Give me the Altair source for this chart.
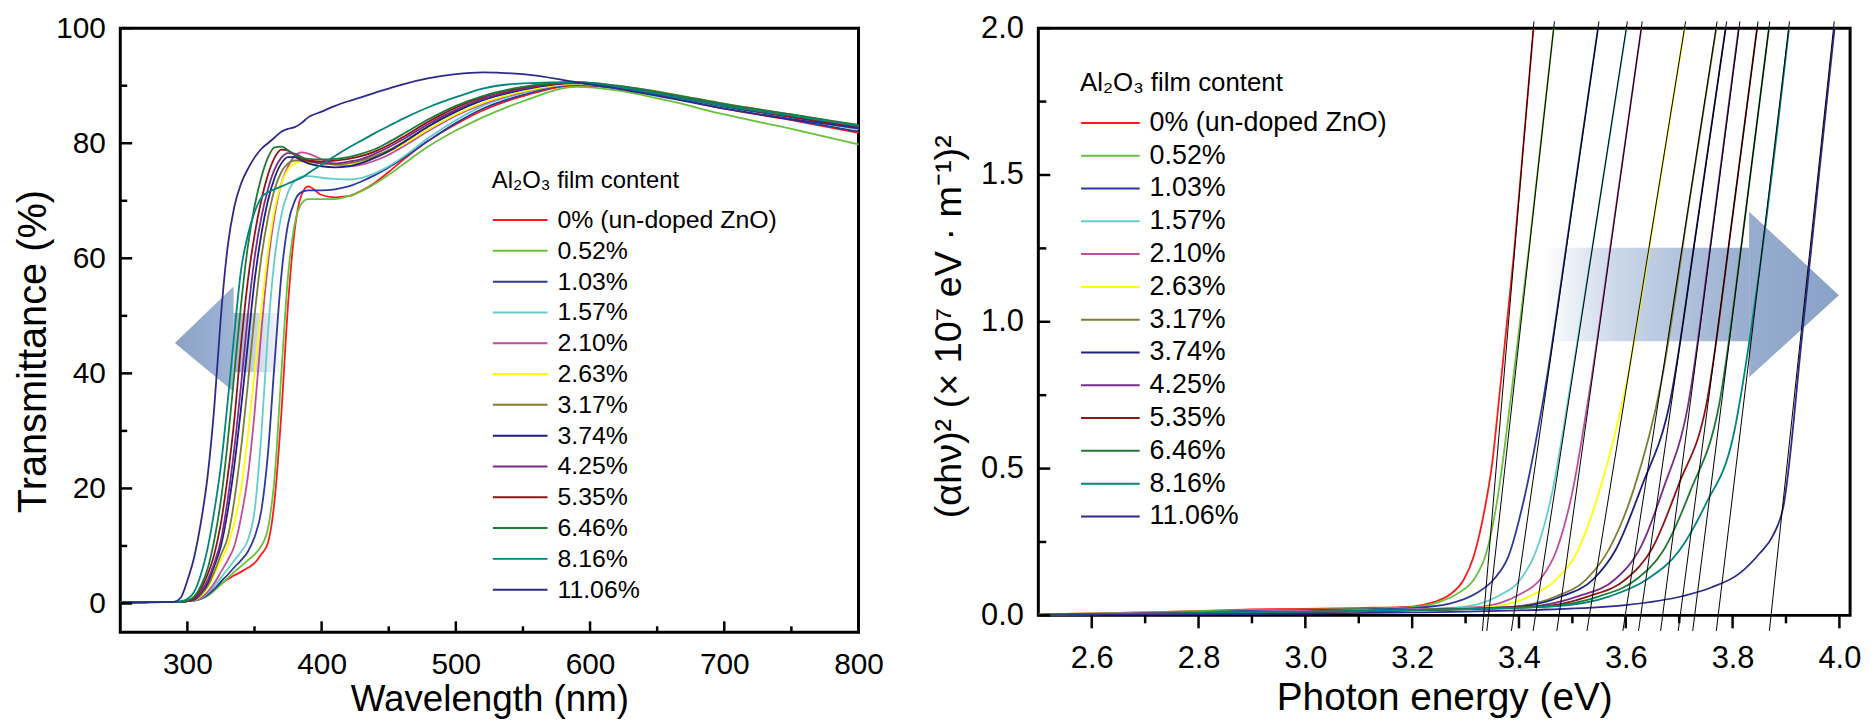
import altair as alt
import pandas as pd

FONT = "Liberation Sans, Arial, Helvetica, sans-serif"

series = ["0% (un-doped ZnO)", "0.52%", "1.03%", "1.57%", "2.10%", "2.63%", "3.17%",
          "3.74%", "4.25%", "5.35%", "6.46%", "8.16%", "11.06%"]
colors = ["#ff1a1a", "#66c23a", "#2b3a9c", "#66cccc", "#c04d9e", "#ffff00", "#7d7d36",
          "#1f1f86", "#7a2c8a", "#8e1515", "#1e7a35", "#00867c", "#2e2a8c"]

# ---------------- left panel: transmittance ----------------
wavelength = [250, 290, 295, 300, 305, 310, 315, 320, 325, 330, 335, 340, 345, 350, 355, 360,
              365, 370, 375, 380, 385, 390, 400, 410, 420, 430, 440, 450, 460, 480, 500, 520,
              550, 590, 620, 660, 700, 750, 800]

T_0 = [0.2, 0.3, 0.3, 0.4, 0.6, 1.0, 1.6, 2.5, 3.4, 4.2, 4.9, 5.5, 6.2, 7.0, 8.5, 10.5, 18, 33, 52, 65,
       71, 72.5, 71, 70.6, 70.8, 71.8, 73.2, 75, 77, 80.5, 83.3, 85.7, 88.2, 90, 89.6, 88, 86, 84, 81.8]
T_052 = [0.2, 0.3, 0.3, 0.4, 0.5, 0.8, 1.3, 2.2, 3.3, 4.4, 5.5, 6.5, 7.5, 8.5, 10, 13, 22, 40, 57, 66,
         69.5, 70.3, 70.3, 70.3, 70.8, 71.7, 73, 74.5, 76.2, 79.5, 82.2, 84.5, 87.3, 89.8, 89.2, 87.3, 85, 82.5, 79.8]
T_103 = [0.2, 0.3, 0.3, 0.4, 0.5, 0.8, 1.5, 2.5, 3.8, 5, 6.3, 7.5, 9, 11.5, 16, 26, 42, 57, 66, 70,
         71.5, 71.8, 71.8, 72, 72.5, 73.4, 74.5, 75.8, 77.3, 80.5, 83.5, 86, 88.4, 90.2, 89.6, 88, 86.1, 84.1, 82]
T_157 = [0.2, 0.3, 0.3, 0.4, 0.5, 0.9, 1.8, 3, 4.5, 6, 7.5, 9, 11, 16, 29, 47, 60, 67.5, 71.5, 73.5,
         74.2, 74.3, 74, 73.8, 73.7, 74, 74.8, 76, 77.5, 81, 84, 86.5, 88.7, 90.3, 89.7, 88.2, 86.3, 84.4, 82.4]
T_210 = [0.2, 0.3, 0.3, 0.4, 0.5, 1, 2, 3.5, 5.5, 7.5, 10, 15, 22, 33, 47, 59, 67.5, 73, 76, 77.8,
         78.4, 78.2, 77.2, 76.3, 76, 76.3, 77, 78, 79.3, 82.2, 84.8, 86.8, 88.9, 90.4, 89.8, 88.3, 86.5, 84.6, 82.6]
T_263 = [0.2, 0.3, 0.3, 0.4, 0.6, 1.3, 2.7, 5, 7.5, 10, 14, 20, 29, 40, 51, 61, 68.5, 73, 75.5, 76.5,
         76.8, 76.7, 76.5, 76.3, 76.4, 76.8, 77.5, 78.5, 79.7, 82.5, 85, 87, 89, 90.4, 89.8, 88.3, 86.6, 84.8, 82.8]
T_317 = [0.2, 0.3, 0.3, 0.4, 0.6, 1.5, 3, 5.5, 8.5, 11.5, 18, 27, 38, 50, 60, 67, 72, 75, 76.5, 77,
         77, 76.8, 76.5, 76.3, 76.5, 77, 77.8, 78.8, 80.1, 83, 85.5, 87.5, 89.4, 90.6, 90, 88.6, 86.9, 85, 83]
T_374 = [0.2, 0.3, 0.3, 0.4, 0.7, 1.8, 3.5, 6.5, 10, 16, 24, 34, 45, 56, 64, 70, 74, 76.5, 77.6, 77.6,
         77, 76.5, 76, 75.8, 76, 76.6, 77.5, 78.6, 80, 83, 85.5, 87.5, 89.3, 90.5, 89.7, 88.2, 86.4, 84.6, 82.8]
T_425 = [0.2, 0.3, 0.3, 0.4, 0.8, 2, 4, 7, 11, 18, 27, 38, 50, 60, 67, 72, 75.5, 77.5, 78.3, 78.2,
         77.6, 77, 76.5, 76.5, 76.8, 77.3, 78.2, 79.3, 80.6, 83.4, 85.8, 87.7, 89.5, 90.5, 89.8, 88.3, 86.6, 84.8, 83]
T_535 = [0.2, 0.3, 0.3, 0.4, 1, 2.5, 5, 8.5, 14, 22, 32, 45, 56, 64, 70, 74.5, 77.5, 78.9, 78.7, 78,
         77.3, 77, 76.8, 77, 77.3, 77.8, 78.6, 79.7, 81, 83.8, 86.2, 88, 89.7, 90.5, 89.8, 88.3, 86.5, 84.6, 82.8]
T_646 = [0.2, 0.3, 0.3, 0.5, 1.2, 3, 6, 11, 18, 28, 40, 52, 62, 69, 74, 77.5, 79.3, 79.4, 78.8, 78,
         77.5, 77.3, 77.2, 77.3, 77.6, 78.2, 79, 80.2, 81.5, 84.2, 86.5, 88.2, 89.8, 90.6, 90, 88.5, 86.8, 85, 83.2]
T_816 = [0.2, 0.3, 0.4, 0.8, 2, 5, 9.5, 16, 24, 35, 47, 58, 64, 68, 70.5, 71.5, 72, 72.5, 73, 73.5,
         74, 74.8, 76.3, 77.8, 79.2, 80.5, 81.8, 83, 84.2, 86.3, 88, 89.5, 90.4, 90.6, 89.8, 88.2, 86.5, 84.8, 83]
T_1106 = [0.2, 0.3, 1, 4, 8, 14, 22, 34, 50, 62, 69, 73, 75.5, 77.5, 79, 80, 81, 82, 82.5, 82.8,
          83.5, 84.5, 85.5, 86.5, 87.3, 88, 88.8, 89.5, 90.2, 91.3, 92, 92.3, 92, 90.6, 89.5, 87.8, 86, 84.2, 82.6]
transmittance = [T_0, T_052, T_103, T_157, T_210, T_263, T_317, T_374, T_425, T_535, T_646, T_816, T_1106]

# ---------------- right panel: (alpha h nu)^2 ----------------
E_0 = [2.5, 2.7, 2.9, 3.1, 3.2, 3.24, 3.27, 3.297, 3.315, 3.334, 3.35, 3.364, 3.39, 3.432]
A_0 = [0.003, 0.01, 0.02, 0.025, 0.03, 0.045, 0.07, 0.123, 0.2, 0.345, 0.52, 0.76, 1.22, 2.1]
E_052 = [2.5, 2.7, 2.9, 3.1, 3.2, 3.25, 3.29, 3.316, 3.34, 3.36, 3.386, 3.42, 3.47]
A_052 = [0.003, 0.01, 0.018, 0.022, 0.028, 0.045, 0.08, 0.123, 0.22, 0.4, 0.76, 1.27, 2.08]
E_103 = [2.5, 2.7, 2.9, 3.1, 3.2, 3.27, 3.32, 3.353, 3.38, 3.41, 3.446, 3.5, 3.556]
A_103 = [0.002, 0.008, 0.015, 0.02, 0.025, 0.04, 0.075, 0.123, 0.2, 0.4, 0.74, 1.4, 2.1]
E_157 = [2.5, 2.8, 3.0, 3.2, 3.3, 3.36, 3.403, 3.43, 3.46, 3.496, 3.55, 3.61]
A_157 = [0.002, 0.01, 0.015, 0.02, 0.03, 0.065, 0.123, 0.21, 0.4, 0.78, 1.4, 2.1]
E_210 = [2.5, 2.8, 3.0, 3.2, 3.33, 3.4, 3.44, 3.47, 3.5, 3.53, 3.58, 3.637]
A_210 = [0.002, 0.01, 0.015, 0.02, 0.03, 0.07, 0.123, 0.22, 0.42, 0.74, 1.37, 2.1]
E_263 = [2.5, 2.8, 3.0, 3.2, 3.35, 3.42, 3.47, 3.51, 3.55, 3.6, 3.65, 3.719]
A_263 = [0.002, 0.008, 0.012, 0.018, 0.03, 0.065, 0.123, 0.22, 0.42, 0.78, 1.32, 2.1]
E_317 = [2.5, 2.8, 3.0, 3.2, 3.39, 3.47, 3.526, 3.57, 3.615, 3.666, 3.72, 3.778]
A_317 = [0.002, 0.008, 0.012, 0.018, 0.03, 0.065, 0.123, 0.23, 0.43, 0.79, 1.42, 2.1]
E_374 = [2.5, 2.8, 3.0, 3.2, 3.4, 3.48, 3.539, 3.58, 3.63, 3.682, 3.735, 3.795]
A_374 = [0.002, 0.008, 0.012, 0.018, 0.03, 0.065, 0.123, 0.22, 0.44, 0.72, 1.35, 2.1]
E_425 = [2.5, 2.8, 3.0, 3.2, 3.42, 3.51, 3.58, 3.63, 3.67, 3.715, 3.76, 3.82]
A_425 = [0.002, 0.008, 0.012, 0.018, 0.03, 0.065, 0.123, 0.24, 0.43, 0.7, 1.28, 2.12]
E_535 = [2.5, 2.8, 3.0, 3.2, 3.44, 3.53, 3.6, 3.65, 3.7, 3.75, 3.8, 3.853]
A_535 = [0.002, 0.008, 0.012, 0.018, 0.03, 0.065, 0.123, 0.23, 0.45, 0.71, 1.36, 2.1]
E_646 = [2.5, 2.8, 3.0, 3.2, 3.45, 3.55, 3.62, 3.67, 3.72, 3.775, 3.82, 3.875]
A_646 = [0.002, 0.008, 0.012, 0.018, 0.03, 0.065, 0.123, 0.22, 0.42, 0.72, 1.31, 2.1]
E_816 = [2.5, 2.8, 3.0, 3.2, 3.46, 3.57, 3.64, 3.7, 3.75, 3.8, 3.85, 3.912]
A_816 = [0.002, 0.008, 0.012, 0.018, 0.03, 0.065, 0.123, 0.22, 0.38, 0.6, 1.17, 2.1]
E_1106 = [2.5, 2.8, 3.0, 3.2, 3.45, 3.6, 3.707, 3.76, 3.813, 3.85, 3.875, 3.895, 3.93, 3.96, 3.995]
A_1106 = [0.0, 0.003, 0.006, 0.01, 0.02, 0.035, 0.066, 0.095, 0.143, 0.21, 0.27, 0.37, 0.95, 1.47, 2.07]
energies = [E_0, E_052, E_103, E_157, E_210, E_263, E_317, E_374, E_425, E_535, E_646, E_816, E_1106]
absorb = [A_0, A_052, A_103, A_157, A_210, A_263, A_317, A_374, A_425, A_535, A_646, A_816, A_1106]

# extrapolated band-gap tangents: energy where each line crosses 0 and 2.0
tangent_at_0 = [3.334, 3.343, 3.390, 3.431, 3.475, 3.532, 3.599, 3.628, 3.669, 3.702, 3.729, 3.773, 3.872]
tangent_at_2 = [3.427, 3.465, 3.548, 3.601, 3.629, 3.710, 3.769, 3.787, 3.812, 3.846, 3.868, 3.905, 3.989]

# tick values
left_x_major = [300, 400, 500, 600, 700, 800]
left_x_minor = [350, 450, 550, 650, 750]
left_y_major = [0, 20, 40, 60, 80, 100]
left_y_minor = [10, 30, 50, 70, 90]
right_x_major = [2.6, 2.8, 3.0, 3.2, 3.4, 3.6, 3.8, 4.0]
right_x_minor = [2.7, 2.9, 3.1, 3.3, 3.5, 3.7, 3.9]
right_y_major = [0.0, 0.5, 1.0, 1.5, 2.0]
right_y_minor = [0.25, 0.75, 1.25, 1.75]

# decorative arrows (data units)
left_arrow_head = pd.DataFrame({"x": [290.7, 334.4], "y": [45.3, 55.1], "y2": [45.3, 36.8]})
left_arrow_body = pd.DataFrame({"x": [334.4, 372.0], "y": [50.5, 50.5], "y2": [40.2, 40.2]})
right_arrow_body = pd.DataFrame({"x": [3.446, 3.831], "y": [1.252, 1.252], "y2": [0.934, 0.934]})
right_arrow_head = pd.DataFrame({"x": [3.831, 3.999], "y": [1.375, 1.090], "y2": [0.811, 1.090]})

# ---------------- tables ----------------
left_rows = []
for s, tv in zip(series, transmittance):
    for w, t in zip(wavelength, tv):
        left_rows.append({"wl": w, "T": t, "series": s})
left_df = pd.DataFrame(left_rows)

right_rows = []
for s, ev, av in zip(series, energies, absorb):
    for e, a in zip(ev, av):
        right_rows.append({"E": e, "A": a, "series": s})
right_df = pd.DataFrame(right_rows)

tan_rows = []
for s, e0, e2 in zip(series, tangent_at_0, tangent_at_2):
    k = (e2 - e0) / 2.0
    tan_rows.append({"E": e0 - 0.053 * k, "A": -0.053, "series": s})
    tan_rows.append({"E": e0 + 2.023 * k, "A": 2.023, "series": s})
tan_df = pd.DataFrame(tan_rows)

LW, LH = 743, 608
RW, RH = 817, 591

xl = alt.Scale(domain=[250, 800], nice=False, zero=False)
yl = alt.Scale(domain=[-5, 100], nice=False, zero=False)
xr = alt.Scale(domain=[2.5, 4.02], nice=False, zero=False)
yr = alt.Scale(domain=[0, 2], nice=False, zero=False)

ax_common = dict(ticks=False, domain=False, grid=False, labelFont=FONT, titleFont=FONT,
                 titleFontWeight="normal", labelColor="black", titleColor="black",
                 labelFlush=False, labelOverlap=False)

xl_axis = alt.Axis(values=left_x_major, title="Wavelength (nm)", labelFontSize=30,
                   titleFontSize=37, labelPadding=18, titlePadding=2, **ax_common)
yl_axis = alt.Axis(values=left_y_major, title="Transmittance (%)", labelFontSize=30,
                   titleFontSize=40, labelPadding=15, titlePadding=2, titleY=325, **ax_common)
xr_axis = alt.Axis(values=right_x_major, format=".1f", title="Photon energy (eV)", labelFontSize=31,
                   titleFontSize=39, labelPadding=28, titlePadding=6, **ax_common)
yr_axis = alt.Axis(values=right_y_major, format=".1f", title="(αhν)²  (× 10⁷ eV · m⁻¹)²",
                   labelFontSize=31, titleFontSize=38, labelPadding=15, titlePadding=12,
                   titleY=300, **ax_common)


def legend(x, y, title_size, label_size, sym_len, row_h, title_pad):
    return alt.Legend(orient="none", legendX=x, legendY=y, title="Al₂O₃ film content",
                      titleFont=FONT, titleFontSize=title_size, titleFontWeight="normal",
                      titleColor="black", titleLimit=600, labelFont=FONT, labelFontSize=label_size,
                      labelColor="black", symbolType="stroke", symbolSize=sym_len * sym_len,
                      symbolStrokeWidth=2, clipHeight=row_h, rowPadding=0, labelOffset=9,
                      titlePadding=title_pad, padding=0, labelLimit=600)


def grad(stops):
    return {"gradient": "linear", "x1": 0, "y1": 0, "x2": 1, "y2": 0,
            "stops": [{"offset": o, "color": c} for o, c in stops]}


# ---- left panel layers
l_head = alt.Chart(left_arrow_head).mark_area(
    color=grad([(0, "#7e98c0"), (1, "#95abcf")]), opacity=0.9).encode(
    x=alt.X("x:Q", scale=xl, axis=xl_axis), y=alt.Y("y:Q", scale=yl, axis=yl_axis), y2="y2:Q")
l_body = alt.Chart(left_arrow_body).mark_area(
    color=grad([(0, "#95abcf"), (1, "#ffffff")]), opacity=0.9).encode(
    x=alt.X("x:Q", scale=xl, axis=xl_axis), y=alt.Y("y:Q", scale=yl, axis=yl_axis), y2="y2:Q")
l_lines = alt.Chart(left_df).mark_line(strokeWidth=1.8, interpolate="monotone").encode(
    x=alt.X("wl:Q", scale=xl, axis=xl_axis),
    y=alt.Y("T:Q", scale=yl, axis=yl_axis),
    color=alt.Color("series:N", scale=alt.Scale(domain=series, range=colors),
                    legend=legend(374, 142, 24, 25, 55, 30.25, 12)),
    detail="series:N",
)
l_ymaj = alt.Chart(pd.DataFrame({"v": left_y_major})).mark_rule(color="black", strokeWidth=2.5).encode(
    y=alt.Y("v:Q", scale=yl, axis=yl_axis), x=alt.value(0), x2=alt.value(12))
l_ymin = alt.Chart(pd.DataFrame({"v": left_y_minor})).mark_rule(color="black", strokeWidth=2.5).encode(
    y=alt.Y("v:Q", scale=yl, axis=yl_axis), x=alt.value(0), x2=alt.value(7))
l_xmaj = alt.Chart(pd.DataFrame({"v": left_x_major})).mark_rule(color="black", strokeWidth=2.5).encode(
    x=alt.X("v:Q", scale=xl, axis=xl_axis), y=alt.value(LH), y2=alt.value(LH - 11))
l_xmin = alt.Chart(pd.DataFrame({"v": left_x_minor})).mark_rule(color="black", strokeWidth=2.5).encode(
    x=alt.X("v:Q", scale=xl, axis=xl_axis), y=alt.value(LH), y2=alt.value(LH - 6))

left = alt.layer(l_head, l_body, l_lines, l_ymaj, l_ymin, l_xmaj, l_xmin).properties(width=LW, height=LH)

# ---- right panel layers
r_body = alt.Chart(right_arrow_body).mark_area(
    color=grad([(0, "#ffffff"), (0.35, "#c6d3e7"), (1, "#8ca4c9")]), opacity=0.9).encode(
    x=alt.X("x:Q", scale=xr, axis=xr_axis), y=alt.Y("y:Q", scale=yr, axis=yr_axis), y2="y2:Q")
r_head = alt.Chart(right_arrow_head).mark_area(
    color=grad([(0, "#8ca4c9"), (1, "#7d97c1")]), opacity=0.9).encode(
    x=alt.X("x:Q", scale=xr, axis=xr_axis), y=alt.Y("y:Q", scale=yr, axis=yr_axis), y2="y2:Q")
r_lines = alt.Chart(right_df).mark_line(strokeWidth=1.8, interpolate="monotone", clip=True).encode(
    x=alt.X("E:Q", scale=xr, axis=xr_axis),
    y=alt.Y("A:Q", scale=yr, axis=yr_axis),
    color=alt.Color("series:N", scale=alt.Scale(domain=series, range=colors),
                    legend=legend(42, 42, 26, 27, 59, 32.8, 11)),
    detail="series:N",
)
r_tan = alt.Chart(tan_df).mark_line(color="black", strokeWidth=1).encode(
    x=alt.X("E:Q", scale=xr, axis=xr_axis), y=alt.Y("A:Q", scale=yr, axis=yr_axis), detail="series:N")
r_ymaj = alt.Chart(pd.DataFrame({"v": right_y_major})).mark_rule(color="black", strokeWidth=2.5).encode(
    y=alt.Y("v:Q", scale=yr, axis=yr_axis), x=alt.value(0), x2=alt.value(12))
r_ymin = alt.Chart(pd.DataFrame({"v": right_y_minor})).mark_rule(color="black", strokeWidth=2.5).encode(
    y=alt.Y("v:Q", scale=yr, axis=yr_axis), x=alt.value(0), x2=alt.value(8))
r_xmaj = alt.Chart(pd.DataFrame({"v": right_x_major})).mark_rule(color="black", strokeWidth=2.5).encode(
    x=alt.X("v:Q", scale=xr, axis=xr_axis), y=alt.value(RH), y2=alt.value(RH + 13))
r_xmin = alt.Chart(pd.DataFrame({"v": right_x_minor})).mark_rule(color="black", strokeWidth=2.5).encode(
    x=alt.X("v:Q", scale=xr, axis=xr_axis), y=alt.value(RH), y2=alt.value(RH + 8))

right = alt.layer(r_body, r_head, r_lines, r_tan, r_ymaj, r_ymin, r_xmaj, r_xmin).properties(width=RW, height=RH)

chart = alt.hconcat(left, right, spacing=181, bounds="flush").resolve_scale(
    color="independent").resolve_legend(color="independent").properties(
    padding={"left": 4, "top": 0, "right": 0, "bottom": 0}
).configure_view(stroke="black", strokeWidth=3)

chart.save("out.html", embed_options={"renderer": "svg", "actions": False})
